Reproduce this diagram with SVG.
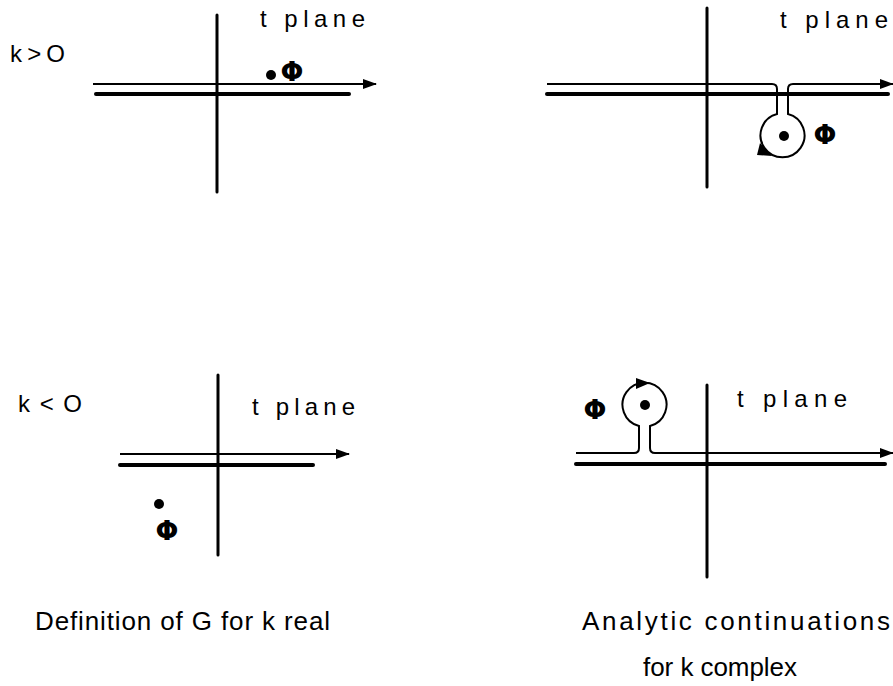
<svg xmlns="http://www.w3.org/2000/svg" width="893" height="686" viewBox="0 0 893 686">
<style>
.ax{stroke:#000;stroke-width:3;fill:none;stroke-linecap:round}
.thick{stroke:#000;stroke-width:4;fill:none;stroke-linecap:round}
.thin{stroke:#000;stroke-width:2;fill:none}
.lbl{font-family:"Liberation Sans",Arial,sans-serif;font-size:24px;fill:#000}
.phi{font-family:"DejaVu Sans",sans-serif;font-size:27px;font-weight:bold;fill:#000}
.cap{font-family:"Liberation Sans",Arial,sans-serif;font-size:26px;fill:#000}
.dot{fill:#000}
</style>
<defs>
<marker id="arr" markerUnits="userSpaceOnUse" markerWidth="14" markerHeight="12" refX="13" refY="6" orient="auto">
<path d="M0,1 L14,6 L0,11 Z" fill="#000"/>
</marker>
</defs>

<g id="panel-kpos">
<line class="ax" x1="217" y1="15" x2="217" y2="192"/>
<line class="thick" x1="96" y1="94" x2="349" y2="94"/>
<text class="lbl" x="10" y="62" textLength="55" lengthAdjust="spacing">k &gt; O</text>
<text class="lbl" x="260" y="27" textLength="105" lengthAdjust="spacing">t plane</text>
<circle class="dot" cx="271" cy="75" r="5"/>
<text class="phi" x="292" y="81" text-anchor="middle">Φ</text>
</g>

<g id="panel-kpos-cont">
<line class="ax" x1="707" y1="8" x2="707" y2="187"/>
<line class="thick" x1="547" y1="94" x2="888" y2="94"/>
<text class="lbl" x="780" y="28" textLength="108" lengthAdjust="spacing">t plane</text>
<circle class="dot" cx="784" cy="136" r="5"/>
<text class="phi" x="825" y="144" text-anchor="middle">Φ</text>
</g>

<g id="panel-kneg">
<line class="ax" x1="218" y1="375" x2="218" y2="555"/>
<line class="thick" x1="120" y1="465" x2="313" y2="465"/>
<text class="lbl" x="18" y="412" textLength="64" lengthAdjust="spacing">k &lt; O</text>
<text class="lbl" x="252" y="415" textLength="103" lengthAdjust="spacing">t plane</text>
<circle class="dot" cx="159" cy="504" r="5"/>
<text class="phi" x="167" y="540" text-anchor="middle">Φ</text>
</g>

<g id="panel-kneg-cont">
<line class="ax" x1="707" y1="385" x2="707" y2="577"/>
<line class="thick" x1="576" y1="464" x2="885" y2="464"/>
<text class="lbl" x="737" y="407" textLength="110" lengthAdjust="spacing">t plane</text>
<circle class="dot" cx="645" cy="405" r="5"/>
<text class="phi" x="595" y="419" text-anchor="middle">Φ</text>
</g>

<g id="connectors">
<line class="thin" x1="93" y1="84" x2="376" y2="84" marker-end="url(#arr)"/>
<line class="thin" x1="120" y1="454" x2="349" y2="454" marker-end="url(#arr)"/>
<path class="thin" d="M547,84 H772 Q777,84 777,89 V114 A22,22 0 1 0 788,114 V89 Q788,84 793,84 H893" marker-end="url(#arr)"/>
<path d="M760,143 L772,156 L757,155 Z" fill="#000"/>
<path class="thin" d="M576,453 H634 Q639,453 639,448 V426 A22,22 0 1 1 650,426 V448 Q650,453 655,453 H893" marker-end="url(#arr)"/>
<path d="M636,378 L650,383 L636,389 Z" fill="#000"/>
</g>

<g id="captions">
<text class="cap" x="35" y="630" textLength="295" lengthAdjust="spacing">Definition of G for k real</text>
<text class="cap" x="582" y="630" textLength="308" lengthAdjust="spacing">Analytic continuations</text>
<text class="cap" x="643" y="676" textLength="154" lengthAdjust="spacing">for k complex</text>
</g>
</svg>
